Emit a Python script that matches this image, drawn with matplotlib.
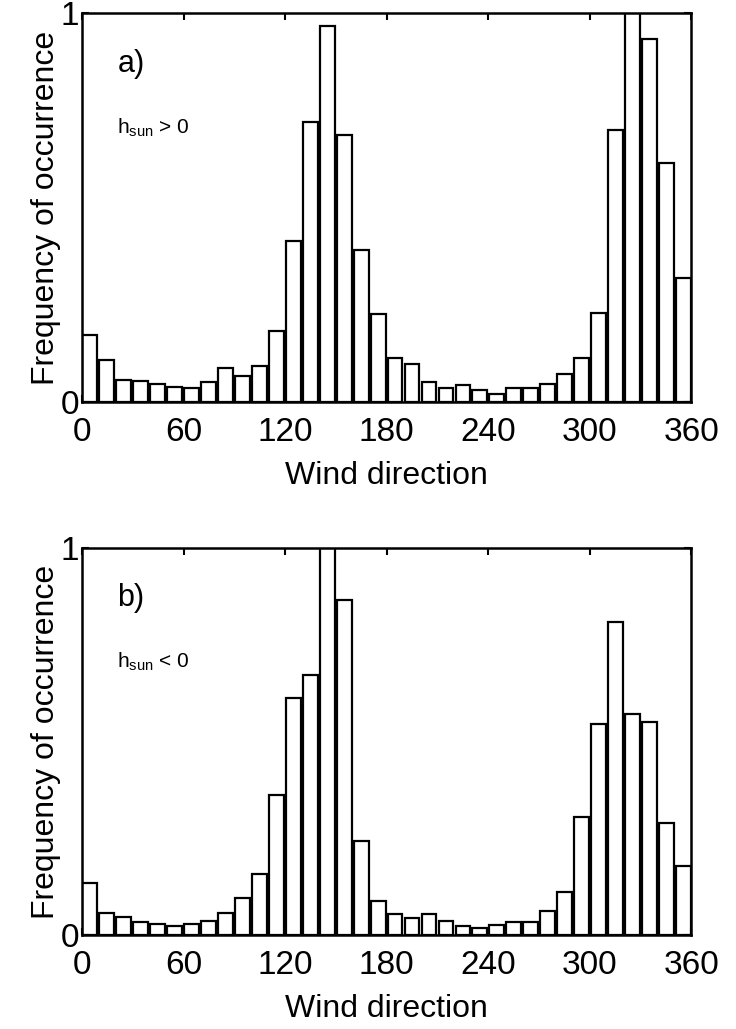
import numpy as np
import matplotlib.pyplot as plt

plt.rcParams['font.family'] = ['Liberation Sans', 'DejaVu Sans']
plt.rcParams['mathtext.fontset'] = 'custom'
plt.rcParams['mathtext.rm'] = 'Liberation Sans'

# 36 wind-direction bins of 10 degrees
bin_start = np.arange(0, 360, 10)

# relative frequency, sun above horizon
freq_day = [0.173, 0.109, 0.057, 0.053, 0.046, 0.038, 0.036, 0.051, 0.087,
            0.068, 0.093, 0.182, 0.413, 0.719, 0.966, 0.687, 0.392, 0.225,
            0.113, 0.098, 0.051, 0.036, 0.045, 0.032, 0.021, 0.036, 0.036,
            0.046, 0.072, 0.113, 0.230, 0.700, 1.050, 0.933, 0.614, 0.319]

# relative frequency, sun below horizon
freq_night = [0.133, 0.058, 0.047, 0.033, 0.028, 0.022, 0.028, 0.037, 0.058,
              0.095, 0.157, 0.361, 0.613, 0.673, 1.050, 0.867, 0.242, 0.089,
              0.054, 0.043, 0.054, 0.037, 0.022, 0.018, 0.027, 0.033, 0.033,
              0.063, 0.110, 0.306, 0.544, 0.809, 0.570, 0.551, 0.289, 0.179]

panels = [("a)", r"h$_{\mathrm{sun}}$ > 0", freq_day),
          ("b)", r"h$_{\mathrm{sun}}$ < 0", freq_night)]

fig = plt.figure(figsize=(7.36, 10.29), dpi=100)
ax_a = fig.add_axes([0.1114, 0.6093, 0.8276, 0.3781])
ax_b = fig.add_axes([0.1114, 0.0914, 0.8276, 0.3760])

width = 8.8
centers = bin_start * (351.2 / 350) + width / 2

for ax, (tag, cond, freq) in zip([ax_a, ax_b], panels):
    ax.bar(centers, freq, width=width, color='white', edgecolor='black',
           linewidth=1.6)
    ax.set_xlim(0, 360)
    ax.set_ylim(0, 1)
    ax.set_xticks(np.arange(0, 361, 60))
    ax.set_yticks([0, 1])
    ax.set_yticklabels(['0', '1'])
    ax.tick_params(direction='in', top=True, right=True, labelsize=24,
                   length=5, width=1.5)
    ax.tick_params(axis='x', pad=11)
    ax.tick_params(axis='y', pad=2)
    for s in ax.spines.values():
        s.set_linewidth(1.8)
    ax.set_xlabel("Wind direction", fontsize=23, labelpad=9)
    ax.set_ylabel("Frequency of occurrence", fontsize=23, labelpad=0)
    ax.text(0.058, 0.87, tag, transform=ax.transAxes, fontsize=22,
            va='center', ha='left')
    ax.text(0.058, 0.705, cond, transform=ax.transAxes, fontsize=15,
            va='center', ha='left')

fig.savefig("out.png", dpi=100)
